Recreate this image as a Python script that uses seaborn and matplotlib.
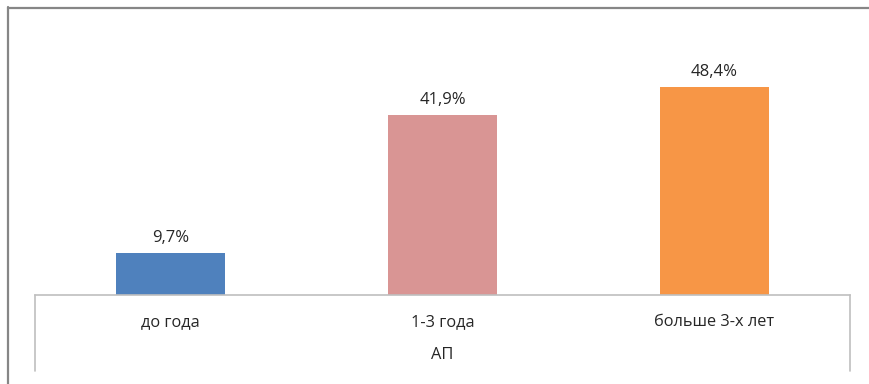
import matplotlib
matplotlib.use("Agg")
import matplotlib.pyplot as plt
import seaborn as sns
import pandas as pd
from matplotlib.lines import Line2D

categories = ["до года", "1-3 года", "больше 3-х лет"]
values = [9.7, 41.9, 48.4]
colors = ["#4F81BD", "#D99594", "#F79646"]
group_label = "АП"

sns.set_theme(style="white")
plt.rcParams["font.family"] = ["Open Sans", "DejaVu Sans"]

W, H = 870, 384
fig = plt.figure(figsize=(W / 100, H / 100), dpi=100)
x0, x1 = 35, 850
ybase, ytop = 295, 37
ax = fig.add_axes([x0 / W, 1 - ybase / H, (x1 - x0) / W, (ybase - ytop) / H])

df = pd.DataFrame({"cat": categories, "val": values})
sns.barplot(data=df, x="cat", y="val", hue="cat", palette=colors, width=0.4,
            dodge=False, legend=False, ax=ax, saturation=1, linewidth=0)
ax.set_ylim(0, 60)
ax.set_xlim(-0.5, len(categories) - 0.5)
for c in ax.containers:
    ax.bar_label(c, labels=[f"{v:.1f}%".replace(".", ",") for v in c.datavalues],
                 padding=5, fontsize=12, color="#262626")

for s in ["top", "left", "right"]:
    ax.spines[s].set_visible(False)
ax.spines["bottom"].set_color("#BFBFBF")
ax.spines["bottom"].set_linewidth(1.2)
ax.set_yticks([])
ax.set_xlabel("")
ax.set_ylabel("")
ax.tick_params(axis="x", length=0, pad=14, labelsize=11.8, labelcolor="#262626")

# group label and outer category lines
fig.text((x0 + x1) / 2 / W, 1 - 355 / H, group_label, ha="center", va="center",
         fontsize=11.8, color="#262626")
for xx in (x0, x1):
    fig.add_artist(Line2D([xx / W, xx / W], [1 - ybase / H, 1 - 371 / H],
                          color="#BFBFBF", lw=1.2))

# outer chart frame (top and left visible)
fig.add_artist(Line2D([8 / W, 1.0], [1 - 7.5 / H, 1 - 7.5 / H], color="#868686", lw=1.6))
fig.add_artist(Line2D([8.5 / W, 8.5 / W], [1 - 7 / H, 0], color="#868686", lw=1.6))

fig.savefig("out.png", dpi=100)
